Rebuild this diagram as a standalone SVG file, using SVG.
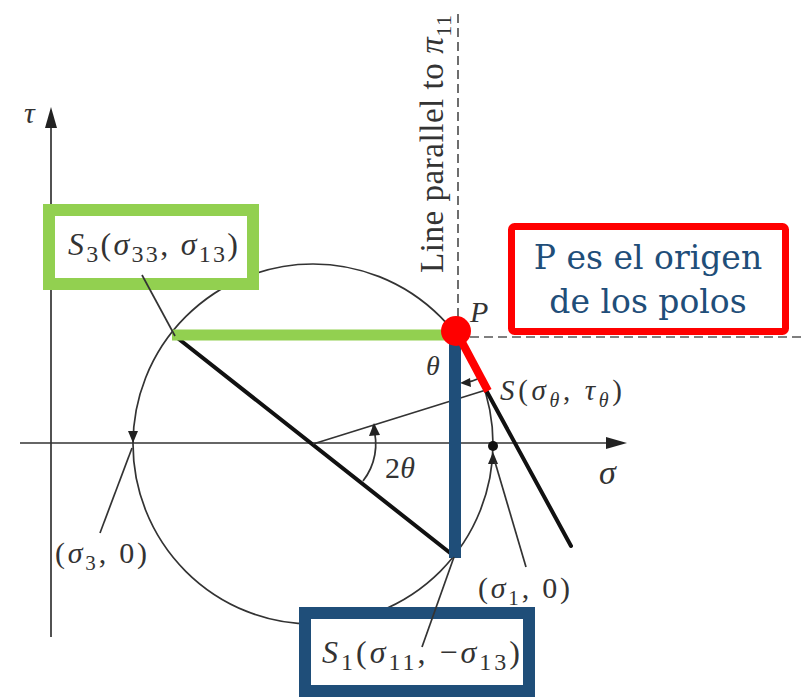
<svg xmlns="http://www.w3.org/2000/svg" width="806" height="697" viewBox="0 0 806 697">
<defs>
<style>
.thin{stroke:#333;stroke-width:1.7;fill:none}
.thick{stroke:#111;stroke-width:4;fill:none;stroke-linecap:round}
.dash{stroke:#555;stroke-width:1.7;stroke-dasharray:9 5;fill:none}
.head{fill:#222;stroke:none}
.m{font-family:"Liberation Serif","Times New Roman",serif;fill:#333}
.i{font-style:italic}
.callout{font-family:"DejaVu Serif",serif;fill:#1F4E79;font-size:33px}
</style>
</defs>
<rect width="806" height="697" fill="#fff"/>

<g id="axes">
  <line class="thin" x1="20" y1="443" x2="608" y2="443"/>
  <polygon class="head" points="627,443 606,437 606,449"/>
  <line class="thin" x1="51" y1="637" x2="51" y2="126"/>
  <polygon class="head" points="51,107 45,128 57,128"/>
  <text class="m i" x="24" y="123" font-size="30">τ</text>
  <text class="m i" x="599" y="484" font-size="34">σ</text>
</g>

<g id="mohr-circle">
  <circle class="thin" cx="313" cy="444" r="180"/>
</g>

<g id="connectors">
  <line class="thick" x1="175" y1="336" x2="454" y2="556"/>
  <line class="thin" x1="313" y1="444" x2="486" y2="390"/>
  <line class="thick" x1="486" y1="390" x2="571" y2="546"/>
  <path class="thin" d="M373,426 A60,60 0 0,1 363,481"/>
  <polygon class="head" points="374,423 369,436 380,435"/>
  <path class="thin" d="M480,378 A52,52 0 0,1 463,383"/>
  <polygon class="head" points="460,383 470,378 471,387"/>
  <line class="dash" x1="458" y1="14" x2="458" y2="331"/>
  <line class="dash" x1="456" y1="337" x2="802" y2="337"/>
  <polygon class="head" points="133,443 128,431 138,431"/>
  <line class="thin" x1="132" y1="448" x2="100" y2="533"/>
  <circle cx="493" cy="446" r="5" fill="#111"/>
  <polygon class="head" points="493,452 488,464 498,464"/>
  <line class="thin" x1="495" y1="462" x2="526" y2="567"/>
</g>

<g id="highlights">
  <line x1="172" y1="335" x2="456" y2="335" stroke="#92D050" stroke-width="11"/>
  <line x1="455" y1="331" x2="455" y2="558" stroke="#1F4E79" stroke-width="12"/>
  <line x1="456" y1="331" x2="488" y2="391" stroke="#FF0000" stroke-width="8"/>
  <circle id="pole" cx="456" cy="331" r="15" fill="#FF0000"/>
</g>

<g id="labels">
  <text class="m" transform="translate(443,273) rotate(-90)" font-size="33" textLength="258">Line parallel to <tspan class="i">π</tspan><tspan font-size="22" dy="8">11</tspan></text>
  <text class="m i" x="470" y="322" font-size="30">P</text>
  <text class="m i" x="426" y="375" font-size="28">θ</text>
  <text class="m" x="385" y="478" font-size="30" textLength="30">2<tspan class="i">θ</tspan></text>
  <text class="m" x="500" y="400" font-size="29" textLength="122"><tspan class="i">S</tspan>(<tspan class="i">σ</tspan><tspan class="i" font-size="20" dy="7">θ</tspan><tspan dy="-7">, </tspan><tspan class="i">τ</tspan><tspan class="i" font-size="20" dy="7">θ</tspan><tspan dy="-7">)</tspan></text>
  <text class="m" x="55" y="563" font-size="30" textLength="92">(<tspan class="i">σ</tspan><tspan font-size="21" dy="7">3</tspan><tspan dy="-7">, 0)</tspan></text>
  <text class="m" x="478" y="598" font-size="30" textLength="92">(<tspan class="i">σ</tspan><tspan font-size="21" dy="7">1</tspan><tspan dy="-7">, 0)</tspan></text>
</g>

<g id="node-s3">
  <rect x="49" y="210" width="204" height="74" fill="#fff" stroke="#92D050" stroke-width="12"/>
  <text class="m" x="68" y="255" font-size="32" textLength="170"><tspan class="i">S</tspan><tspan font-size="24" dy="7">3</tspan><tspan dy="-7">(</tspan><tspan class="i">σ</tspan><tspan font-size="24" dy="7">33</tspan><tspan dy="-7">, </tspan><tspan class="i">σ</tspan><tspan font-size="24" dy="7">13</tspan><tspan dy="-7">)</tspan></text>
  <line class="thin" x1="142" y1="275" x2="175" y2="336"/>
</g>

<g id="node-s1">
  <rect x="305" y="613" width="224" height="78" fill="#fff" stroke="#1F4E79" stroke-width="12"/>
  <text class="m" x="322" y="663" font-size="32" textLength="198"><tspan class="i">S</tspan><tspan font-size="24" dy="7">1</tspan><tspan dy="-7">(</tspan><tspan class="i">σ</tspan><tspan font-size="24" dy="7">11</tspan><tspan dy="-7">, −</tspan><tspan class="i">σ</tspan><tspan font-size="24" dy="7">13</tspan><tspan dy="-7">)</tspan></text>
  <line class="thin" x1="422" y1="647" x2="454" y2="557"/>
</g>

<g id="node-p-note">
  <rect x="511.5" y="226.5" width="274" height="105" rx="3" fill="#fff" stroke="#FF0000" stroke-width="7"/>
  <text class="callout" x="648" y="269" text-anchor="middle">P es el origen</text>
  <text class="callout" x="648" y="313" text-anchor="middle">de los polos</text>
</g>
</svg>
